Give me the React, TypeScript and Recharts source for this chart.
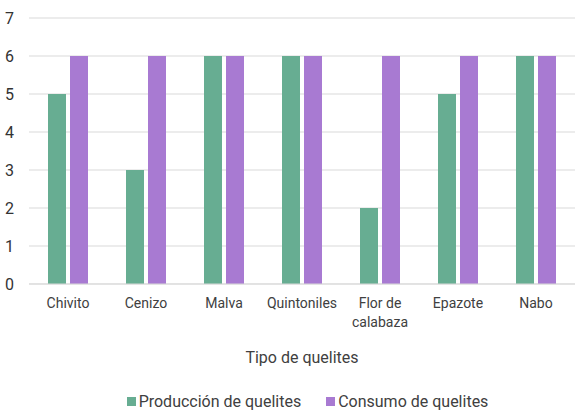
import React from "react";
import { BarChart, Bar, XAxis, YAxis, CartesianGrid, Legend } from "recharts";

const categories = ["Chivito", "Cenizo", "Malva", "Quintoniles", "Flor de calabaza", "Epazote", "Nabo"];
const produccion = [5, 3, 6, 6, 2, 5, 6];
const consumo = [6, 6, 6, 6, 6, 6, 6];
const yTicks = [0, 1, 2, 3, 4, 5, 6, 7];
const seriesNames = ["Producción de quelites", "Consumo de quelites"];
const seriesColors = ["#67ad92", "#a87ad2"];

const data = categories.map((c, i) => ({ name: c, produccion: produccion[i], consumo: consumo[i] }));

const FONT = "Roboto, 'Noto Sans', sans-serif";

function splitLabel(s: string): string[] {
  if (s.length <= 11) return [s];
  const words = s.split(" ");
  const lines: string[] = [];
  let cur = "";
  for (const w of words) {
    const t = cur ? cur + " " + w : w;
    if (t.length > 8 && cur) {
      lines.push(cur);
      cur = w;
    } else cur = t;
  }
  if (cur) lines.push(cur);
  return lines;
}

const XTick = (props: any) => {
  const { x, y, payload } = props;
  const lines = splitLabel(String(payload.value));
  return (
    <text x={x} y={y} textAnchor="middle" fill="#404040" fontSize={14} fontFamily={FONT}>
      {lines.map((l, i) => (
        <tspan key={i} x={x} dy={i === 0 ? 16 : 19}>
          {l}
        </tspan>
      ))}
    </text>
  );
};

const LegendContent = () => (
  <div
    style={{
      height: 40,
      display: "flex",
      alignItems: "flex-end",
      justifyContent: "center",
      paddingLeft: 40,
      fontFamily: FONT,
      fontSize: 16,
      color: "#404040",
      boxSizing: "border-box",
      paddingBottom: 0,
    }}
  >
    {seriesNames.map((n, i) => (
      <div key={n} style={{ display: "flex", alignItems: "center", marginRight: i === 0 ? 25 : 0, lineHeight: "19px" }}>
        <span style={{ display: "inline-block", width: 9, height: 9, background: seriesColors[i], marginRight: 3 }} />
        <span>{n}</span>
      </div>
    ))}
  </div>
);

export default function App() {
  return (
    <div style={{ position: "absolute", left: 0, top: 0, background: "#fff" }}>
      <BarChart
        width={578}
        height={411}
        data={data}
        margin={{ top: 18, right: 3, left: 0, bottom: 0 }}
        barGap={4}
        barSize={18}
      >
        <CartesianGrid vertical={false} stroke="#d9d9d9" />
        <XAxis
          dataKey="name"
          tick={<XTick />}
          tickLine={false}
          axisLine={{ stroke: "#d9d9d9" }}
          height={87}
          interval={0}
          label={{
            value: "Tipo de quelites",
            position: "insideBottom",
            offset: 8,
            fill: "#404040",
            fontSize: 16,
            fontFamily: FONT,
          }}
        />
        <YAxis
          domain={[0, 7]}
          ticks={yTicks}
          width={29}
          tickLine={false}
          axisLine={false}
          tick={{ fill: "#333", fontSize: 16, fontFamily: FONT }}
          tickMargin={9}
        />
        <Legend verticalAlign="bottom" height={40} content={<LegendContent />} />
        <Bar dataKey="produccion" name={seriesNames[0]} fill={seriesColors[0]} isAnimationActive={false} />
        <Bar dataKey="consumo" name={seriesNames[1]} fill={seriesColors[1]} isAnimationActive={false} />
      </BarChart>
    </div>
  );
}
